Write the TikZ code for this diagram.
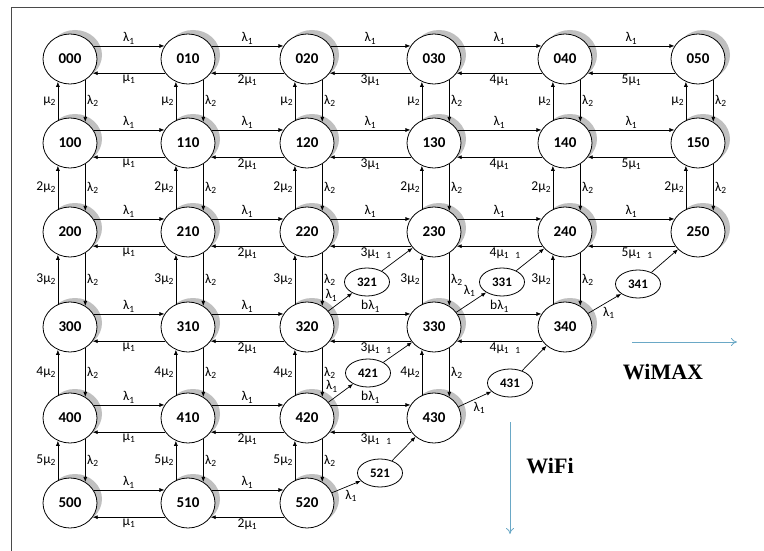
\documentclass[tikz,border=0pt]{standalone}
\usepackage{fontspec}
\setmainfont{Carlito}
\newfontfamily\netfont{Liberation Serif}
\usetikzlibrary{arrows.meta,shapes.geometric,shadows}
\definecolor{stgray}{HTML}{C0C0C0}
\definecolor{netblue}{HTML}{6AA8C6}
\definecolor{framegray}{HTML}{4A4A4A}
\newcommand\lamr[1]{λ\textsubscript{#1}}
\newcommand\mur[1]{μ\textsubscript{#1}}

\begin{document}
\begin{tikzpicture}[
 x=1pt,y=-1pt,>={Latex[length=5pt,width=4pt]},font=\fontsize{13.5}{15}\selectfont,
 state/.style={ellipse,draw,line width=0.8pt,fill=white,minimum width=54pt,minimum height=50pt,inner sep=0pt,
  font=\fontsize{15}{17}\selectfont\bfseries,general shadow={fill=stgray,shadow xshift=5pt,shadow yshift=4pt}},
 sub/.style={ellipse,draw,line width=0.8pt,fill=white,minimum width=45pt,minimum height=28pt,inner sep=0pt,
  font=\fontsize{13}{15}\selectfont\bfseries},
 rate/.style={inner sep=1.5pt},
 dlabA/.style={above left,pos=.45},
 dlabB/.style={above left,pos=.7},
 dlabD/.style={below right,pos=.4},
 net/.style={-{To[length=6pt,width=8pt]},netblue,line width=0.8pt},
 netlbl/.style={font=\netfont\fontsize{22}{24}\selectfont\bfseries}
]
\useasboundingbox (0,0) rectangle (764,551);
\draw[framegray,line width=0.8pt] (11,551) -- (11,7) -- (764,7);

% states (i,j,0)
\foreach \r/\y/\m in {0/59/5,1/143/5,2/232/5,3/327/4,4/418/3,5/503/2}
 \foreach \c/\x in {0/70,1/188,2/307,3/434,4/565,5/698}
  {\ifnum\c>\m\relax\else\node[state] (s\r\c) at (\x,\y) {\r\c0};\fi}
% states (i,j,1)
\foreach \s/\x/\y in {321/367/282,331/502/282,341/638/284,421/368/373,431/510/383,521/380/473}
 \node[sub] (t\s) at (\x,\y) {\s};

% WiMAX moves
\foreach \r/\m in {0/5,1/5,2/5,3/4,4/3,5/2}
 \foreach \c in {1,...,\m}{
  \pgfmathtruncatemacro\p{\c-1}
  \ifnum\c=1 \def\k{}\else\edef\k{\c}\fi
  \def\b{}\def\e{}
  \ifnum\r>1 \ifnum\c>2 \def\e{\rlap{\hspace{6pt}\textsubscript{1}}}\fi\fi
  \ifnum\r>2 \ifnum\c>2 \def\b{b}\fi\fi
  \draw[->,line width=0.7pt] (s\r\p.29) -- node[above,rate] {\b\lamr1} (s\r\c.151);
  \draw[->,line width=0.7pt] (s\r\c.212) -- node[below,rate] {\k\mur1\e} (s\r\p.328);
 }
% WiFi moves
\foreach \c/\m in {0/5,1/5,2/5,3/4,4/3,5/2}
 \foreach \r in {1,...,\m}{
  \pgfmathtruncatemacro\p{\r-1}
  \ifnum\r=1 \def\k{}\else\edef\k{\r}\fi
  \draw[->,line width=0.7pt] (s\r\c.118) -- node[left,rate] {\k\mur2} (s\p\c.242);
  \draw[->,line width=0.7pt] (s\p\c.-54) -- node[right,rate] {\lamr2} (s\r\c.54);
 }
% moves through (i,j,1)
\foreach \a/\s/\b/\side in {32/321/23/dlabA,33/331/24/dlabB,34/341/25/dlabD,42/421/33/dlabA,43/431/34/dlabD,52/521/43/dlabD}{
  \draw[->,line width=0.7pt] (s\a) -- node[\side,rate] {\lamr1} (t\s);
  \draw[->,line width=0.7pt] (t\s) -- (s\b);
 }

% network directions
\coordinate (maxA) at (632,342);
\coordinate (maxB) at (737,342);
\coordinate (fiA) at (510,422);
\coordinate (fiB) at (510,534);
\draw[net] (maxA) -- (maxB);
\draw[net] (fiA) -- (fiB);
\node[netlbl] (wimax) at (663,372) {WiMAX};
\node[netlbl] (wifi) at (550,466) {WiFi};
\end{tikzpicture}
\end{document}
